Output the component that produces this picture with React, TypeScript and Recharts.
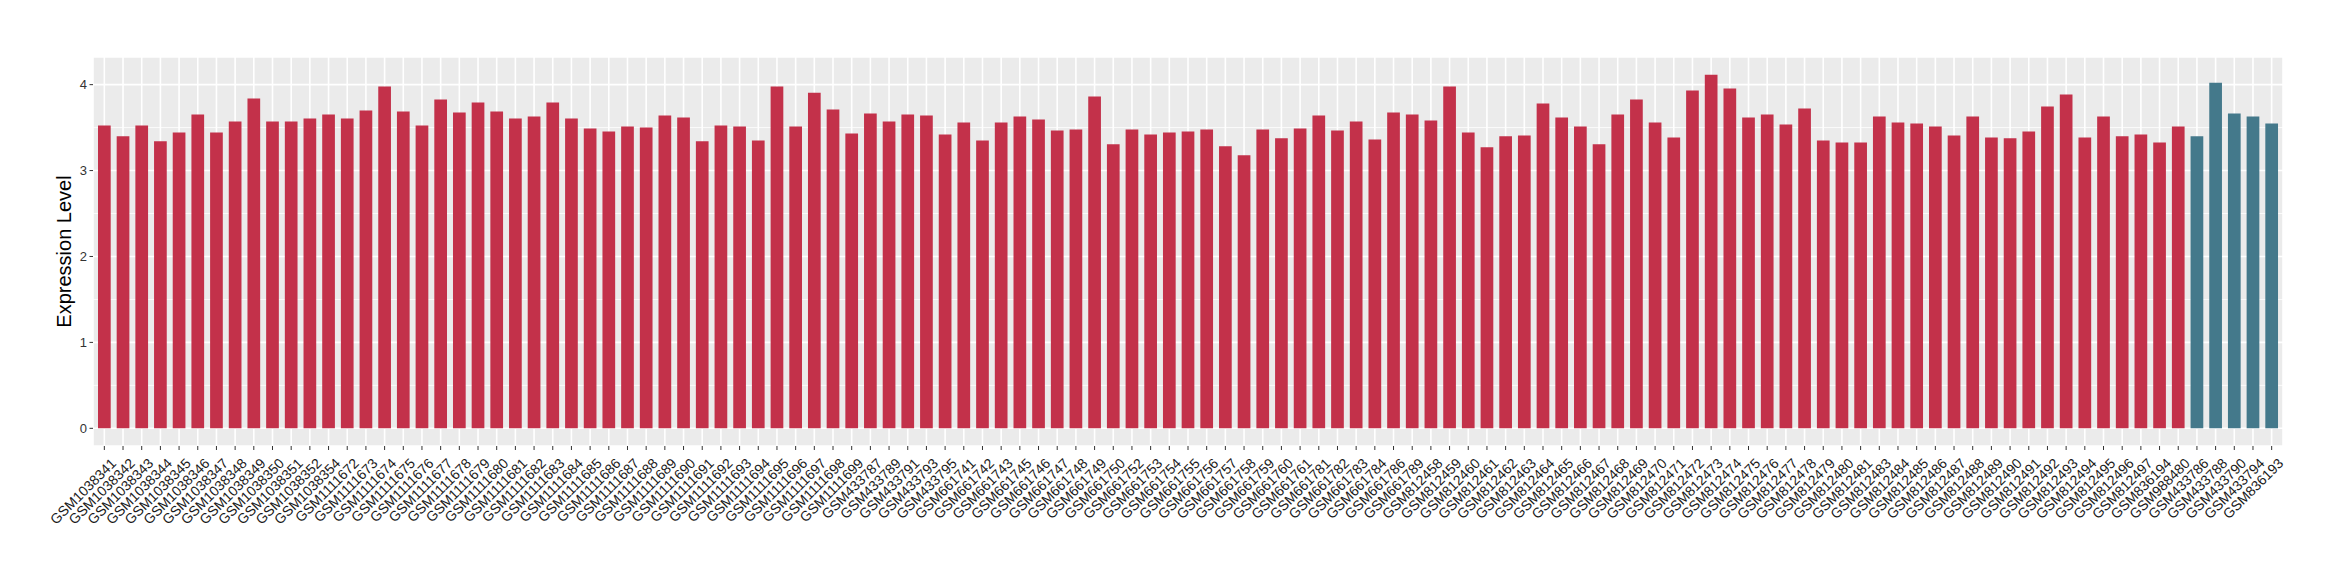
import { BarChart, Bar, XAxis, YAxis, CartesianGrid, Cell } from 'recharts';

// red group
const caseSamples = [
  'GSM1038341', 'GSM1038342', 'GSM1038343', 'GSM1038344', 'GSM1038345', 'GSM1038346', 'GSM1038347',
  'GSM1038348', 'GSM1038349', 'GSM1038350', 'GSM1038351', 'GSM1038352', 'GSM1038354',
  'GSM1111672', 'GSM1111673', 'GSM1111674', 'GSM1111675', 'GSM1111676', 'GSM1111677', 'GSM1111678',
  'GSM1111679', 'GSM1111680', 'GSM1111681', 'GSM1111682', 'GSM1111683', 'GSM1111684', 'GSM1111685',
  'GSM1111686', 'GSM1111687', 'GSM1111688', 'GSM1111689', 'GSM1111690', 'GSM1111691', 'GSM1111692',
  'GSM1111693', 'GSM1111694', 'GSM1111695', 'GSM1111696', 'GSM1111697', 'GSM1111698', 'GSM1111699',
  'GSM433787', 'GSM433789', 'GSM433791', 'GSM433793', 'GSM433795',
  'GSM661741', 'GSM661742', 'GSM661743', 'GSM661745', 'GSM661746', 'GSM661747', 'GSM661748',
  'GSM661749', 'GSM661750', 'GSM661752', 'GSM661753', 'GSM661754', 'GSM661755', 'GSM661756',
  'GSM661757', 'GSM661758', 'GSM661759', 'GSM661760', 'GSM661761', 'GSM661781', 'GSM661782',
  'GSM661783', 'GSM661784', 'GSM661786', 'GSM661789',
  'GSM812458', 'GSM812459', 'GSM812460', 'GSM812461', 'GSM812462', 'GSM812463', 'GSM812464',
  'GSM812465', 'GSM812466', 'GSM812467', 'GSM812468', 'GSM812469', 'GSM812470', 'GSM812471',
  'GSM812472', 'GSM812473', 'GSM812474', 'GSM812475', 'GSM812476', 'GSM812477', 'GSM812478',
  'GSM812479', 'GSM812480', 'GSM812481', 'GSM812483', 'GSM812484', 'GSM812485', 'GSM812486',
  'GSM812487', 'GSM812488', 'GSM812489', 'GSM812490', 'GSM812491', 'GSM812492', 'GSM812493',
  'GSM812494', 'GSM812495', 'GSM812496', 'GSM812497',
  'GSM836194', 'GSM988480',
];

const caseExpression = [
  3.525, 3.398, 3.525, 3.340, 3.444, 3.653, 3.444, 3.571, 3.838, 3.571, 3.571, 3.606, 3.653,
  3.606, 3.699, 3.977, 3.687, 3.525, 3.826, 3.676, 3.792, 3.687, 3.606, 3.629, 3.792, 3.606, 3.490,
  3.456, 3.514, 3.502, 3.641, 3.618, 3.340, 3.525, 3.514, 3.351, 3.977, 3.514, 3.907, 3.710, 3.432,
  3.664, 3.571, 3.653, 3.641, 3.421,
  3.560, 3.351, 3.560, 3.629, 3.595, 3.467, 3.479, 3.861, 3.305, 3.479, 3.421, 3.444, 3.456, 3.479,
  3.282, 3.178, 3.479, 3.375, 3.490, 3.641, 3.467, 3.571, 3.363, 3.676, 3.653,
  3.583, 3.977, 3.444, 3.270, 3.398, 3.409, 3.780, 3.618, 3.514, 3.305, 3.653, 3.826, 3.560, 3.386,
  3.931, 4.116, 3.954, 3.618, 3.653, 3.537, 3.722, 3.351, 3.328, 3.328, 3.629, 3.560, 3.548, 3.514,
  3.409, 3.629, 3.386, 3.375, 3.456, 3.745, 3.884, 3.386, 3.629, 3.398, 3.421,
  3.328, 3.514,
];

// blue group
const controlSamples = ['GSM433786', 'GSM433788', 'GSM433790', 'GSM433794', 'GSM836193'];
const controlExpression = [3.398, 4.023, 3.664, 3.629, 3.548];

const yTicks = [0, 1, 2, 3, 4];
const yMinor = [0.5, 1.5, 2.5, 3.5];

const CASE_COLOR = '#C3314A';
const CONTROL_COLOR = '#44798B';
const FONT = '"Liberation Sans", Arial, Helvetica, sans-serif';

const data = [
  ...caseSamples.map((s, i) => ({ sample: s, value: caseExpression[i], fill: CASE_COLOR })),
  ...controlSamples.map((s, i) => ({ sample: s, value: controlExpression[i], fill: CONTROL_COLOR })),
];

// ggplot-style 5% expansion
const yMax = Math.max(...caseExpression, ...controlExpression);
const yDomain = [-0.05 * yMax, 1.05 * yMax];

function SampleTick({ x, y, payload }: any) {
  return (
    <g transform={`translate(${x + 5.5},${y + 5}) rotate(-45)`}>
      <text x={0} y={0} dy="0.72em" textAnchor="end" fontSize={14} fill="#1a1a1a" fontFamily={FONT}>
        {payload.value}
      </text>
    </g>
  );
}

function YTitle({ viewBox }: any) {
  const cy = viewBox.y + viewBox.height / 2;
  return (
    <text
      x={71}
      y={cy}
      transform={`rotate(-90 71 ${cy})`}
      textAnchor="middle"
      fontSize={20}
      fill="#000"
      fontFamily={FONT}
    >
      Expression Level
    </text>
  );
}

export default function App() {
  return (
    <div style={{ position: 'fixed', left: 0, top: 0, width: 2340, height: 580, background: '#fff' }}>
      <BarChart
        width={2340}
        height={580}
        data={data}
        margin={{ top: 57, right: 57, left: 0, bottom: 0 }}
      >
        <CartesianGrid fill="#EBEBEB" stroke="#FFFFFF" strokeWidth={1.6} />
        {/* minor y grid */}
        <CartesianGrid
          vertical={false}
          horizontalValues={yMinor}
          syncWithTicks
          stroke="#FFFFFF"
          strokeWidth={0.8}
        />
        <XAxis
          dataKey="sample"
          interval={0}
          height={134}
          axisLine={false}
          tickLine={{ stroke: '#333333' }}
          tickSize={4}
          tickMargin={2}
          padding={{ left: 2, right: 2 }}
          tick={<SampleTick />}
        />
        <YAxis
          type="number"
          domain={yDomain}
          ticks={yTicks}
          allowDataOverflow
          width={93}
          axisLine={false}
          tickLine={{ stroke: '#333333' }}
          tickSize={3.5}
          tickMargin={2.5}
          tick={{ fontSize: 13, fill: '#333333', fontFamily: FONT }}
          label={<YTitle />}
        />
        <Bar dataKey="value" barSize={12.7} isAnimationActive={false}>
          {data.map((d) => (
            <Cell key={d.sample} fill={d.fill} />
          ))}
        </Bar>
      </BarChart>
    </div>
  );
}
